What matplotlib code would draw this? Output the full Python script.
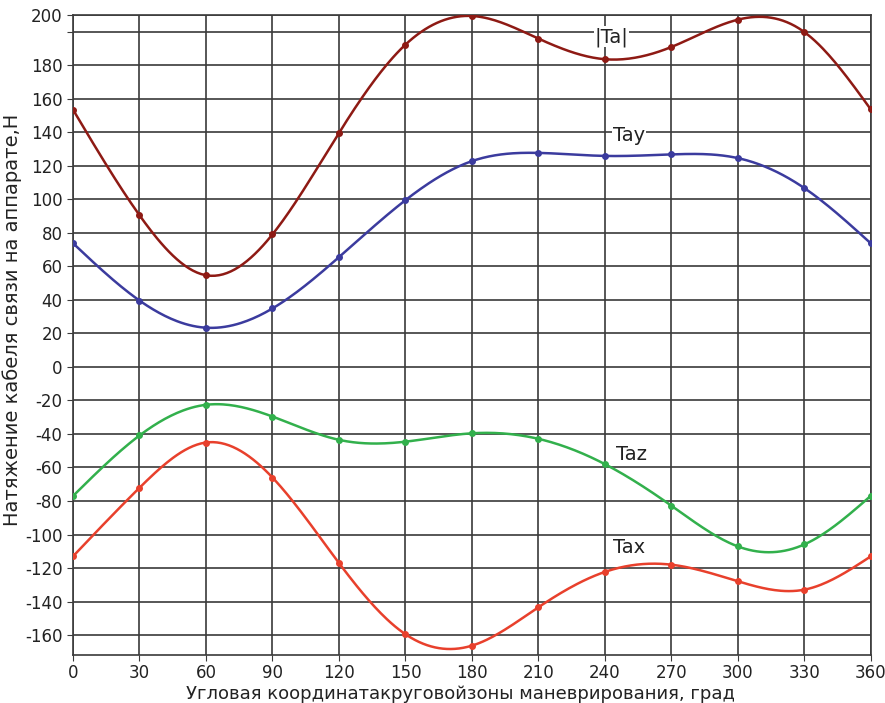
import numpy as np
import matplotlib
matplotlib.use("Agg")
import matplotlib.pyplot as plt

# angle, degrees
angles = [0, 30, 60, 90, 120, 150, 180, 210, 240, 270, 300, 330, 360]

# cable tension components, N
ta_abs = [153.5, 90.5, 54.7, 79.1, 139.6, 192.3, 209.4, 195.9, 183.6, 190.9, 207.2, 199.8, 153.6]
ta_y = [73.8, 39.6, 23.4, 34.9, 65.5, 99.5, 122.8, 127.7, 125.9, 126.8, 124.6, 106.7, 73.7]
ta_z = [-77.0, -40.9, -22.6, -29.6, -43.5, -44.6, -39.6, -42.9, -58.0, -82.8, -107.1, -105.9, -76.9]
ta_x = [-113.0, -72.1, -45.1, -66.0, -117.0, -159.5, -166.3, -143.4, -122.3, -118.0, -127.9, -132.9, -113.0]

series_names = ["|Ta|", "Tay", "Taz", "Tax"]
x_ticks = [0, 30, 60, 90, 120, 150, 180, 210, 240, 270, 300, 330, 360]
y_ticks = [-160, -140, -120, -100, -80, -60, -40, -20, 0, 20, 40, 60, 80,
           100, 120, 140, 160, 180, 200, 210]
y_tick_labels = ["-160", "-140", "-120", "-100", "-80", "-60", "-40", "-20", "0",
                 "20", "40", "60", "80", "100", "120", "140", "160", "180", "", "200"]

COLORS = ["#8e1a14", "#3b3b9e", "#32b04c", "#e8402c"]
LABEL_POS = [(243, 197), (251, 138), (252, -52), (251, -108)]


def spline(x, y, n=400):
    # natural cubic spline, just for drawing the smooth curve
    x = np.asarray(x, float)
    y = np.asarray(y, float)
    h = np.diff(x)
    m = len(x)
    A = np.zeros((m, m))
    b = np.zeros(m)
    A[0, 0] = A[-1, -1] = 1
    for i in range(1, m - 1):
        A[i, i - 1] = h[i - 1]
        A[i, i] = 2 * (h[i - 1] + h[i])
        A[i, i + 1] = h[i]
        b[i] = 6 * ((y[i + 1] - y[i]) / h[i] - (y[i] - y[i - 1]) / h[i - 1])
    M = np.linalg.solve(A, b)
    xs = np.linspace(x[0], x[-1], n)
    idx = np.clip(np.searchsorted(x, xs) - 1, 0, m - 2)
    x0, x1 = x[idx], x[idx + 1]
    hh = x1 - x0
    t0, t1 = x1 - xs, xs - x0
    ys = (M[idx] * t0 ** 3 + M[idx + 1] * t1 ** 3) / (6 * hh) \
        + (y[idx] / hh - M[idx] * hh / 6) * t0 + (y[idx + 1] / hh - M[idx + 1] * hh / 6) * t1
    return xs, ys


fig = plt.figure(figsize=(8.85, 7.03), dpi=100)
ax = fig.add_axes([0.0825, 0.068, 0.9015, 0.9107])

for vals, name, color, (lx, ly) in zip([ta_abs, ta_y, ta_z, ta_x], series_names, COLORS, LABEL_POS):
    xs, ys = spline(angles, vals)
    ax.plot(xs, ys, color=color, linewidth=1.8, zorder=3)
    ax.plot(angles, vals, "o", color=color, markersize=4, zorder=4)
    ax.text(lx, ly, name, fontsize=14, color="#222", ha="center", va="center", zorder=5,
            bbox=dict(facecolor="white", edgecolor="none", pad=0.5))

ax.set_xlim(0, 360)
ax.set_ylim(-172, 210)
ax.set_xticks(x_ticks)
ax.set_xticklabels([str(v) for v in x_ticks], fontsize=12)
ax.set_yticks(y_ticks)
ax.set_yticklabels(y_tick_labels, fontsize=12)
ax.grid(True, color="#3a3a3a", linewidth=1.2)
ax.set_axisbelow(True)
for s in ax.spines.values():
    s.set_color("#3a3a3a")
    s.set_linewidth(1.2)
ax.tick_params(length=4, color="#3a3a3a", labelcolor="#222")
ax.tick_params(axis="x", pad=2)

ax.set_xlabel("Угловая координатакруговойзоны маневрирования, град", fontsize=13, color="#222")
ax.xaxis.set_label_coords(0.486, -0.047)
ax.set_ylabel("Натяжение кабеля связи на аппарате,Н", fontsize=14, color="#222")
ax.yaxis.set_label_coords(-0.064, 0.523)

fig.savefig("out.png", dpi=100, facecolor="white")
